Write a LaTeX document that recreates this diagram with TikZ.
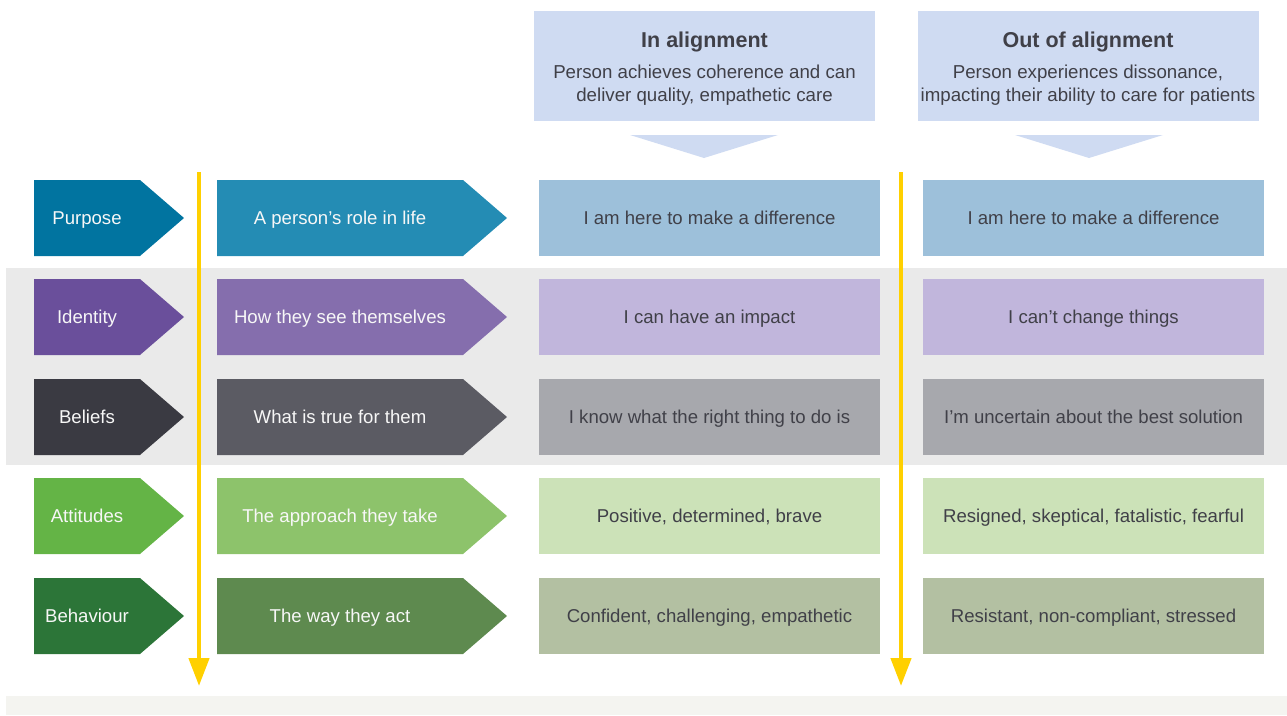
\documentclass[tikz,border=0pt]{standalone}
\usepackage{fontspec}
\setmainfont{Liberation Sans}
\usetikzlibrary{arrows.meta}

\definecolor{purA}{HTML}{0174A0}
\definecolor{purB}{HTML}{248CB4}
\definecolor{purC}{HTML}{9DC0DA}
\definecolor{idA}{HTML}{6A4F9B}
\definecolor{idB}{HTML}{856EAD}
\definecolor{idC}{HTML}{C1B6DC}
\definecolor{belA}{HTML}{3A3A42}
\definecolor{belB}{HTML}{5B5B63}
\definecolor{belC}{HTML}{A7A8AD}
\definecolor{attA}{HTML}{64B446}
\definecolor{attB}{HTML}{8DC36B}
\definecolor{attC}{HTML}{CCE2B8}
\definecolor{behA}{HTML}{2C7538}
\definecolor{behB}{HTML}{5E8A4F}
\definecolor{behC}{HTML}{B3C0A2}
\definecolor{headblue}{HTML}{CFDBF2}
\definecolor{bandgray}{HTML}{EAEAEA}
\definecolor{footgray}{HTML}{F4F4F0}
\definecolor{flowyellow}{HTML}{FFD000}
\definecolor{darktext}{HTML}{404048}

\begin{document}
\begin{tikzpicture}[x=1pt, y=-1pt,
  headbox/.style={rectangle, fill=headblue, minimum width=341pt, minimum height=110pt, inner sep=0pt},
  headtitle/.style={font=\fontsize{21.5}{24}\selectfont\bfseries, text=darktext, text height=16pt, text depth=4pt},
  headtext/.style={font=\fontsize{18.7}{23}\selectfont, text=darktext, align=center},
  lbl/.style={font=\fontsize{18.6}{22}\selectfont, text=white!94!gray, text height=16pt, text depth=4pt},
  cell/.style={rectangle, minimum width=341pt, minimum height=76pt, inner sep=0pt, font=\fontsize{18.6}{22}\selectfont, text=darktext, text height=16pt, text depth=4pt},
  flow/.style={-{Triangle[width=20pt,length=28pt]}, line width=4.5pt, flowyellow}
]
\useasboundingbox (0,0) rectangle (1287,715);

% bands
\fill[bandgray] (6,268) rectangle (1287,465);
\fill[footgray] (6,696) rectangle (1287,715);

% headers
\node[headbox] (hin) at (704.5,66) {};
\node[headbox] (hout) at (1088,66) {};
\node[headtitle] (tin) at (704.5,41) {In alignment};
\node[headtext] (sin) at (704.5,85.5) {Person achieves coherence and can\\deliver quality, empathetic care};
\node[headtitle] (tout) at (1088,41) {Out of alignment};
\node[headtext] (sout) at (1088,85.5) {Person experiences dissonance,\\impacting their ability to care for patients};
\fill[headblue] (630,135) -- (778,135) -- (704,158) -- cycle;
\fill[headblue] (1015,135) -- (1163,135) -- (1089,158) -- cycle;

% rows
\foreach \y/\name/\ca/\cb/\cc/\ta/\tb/\tc/\td in {
  218/pur/purA/purB/purC/Purpose/{A person’s role in life}/{I am here to make a difference}/{I am here to make a difference},
  317/id/idA/idB/idC/Identity/{How they see themselves}/{I can have an impact}/{I can’t change things},
  417/bel/belA/belB/belC/Beliefs/{What is true for them}/{I know what the right thing to do is}/{I’m uncertain about the best solution},
  516/att/attA/attB/attC/Attitudes/{The approach they take}/{Positive, determined, brave}/{Resigned, skeptical, fatalistic, fearful},
  616/beh/behA/behB/behC/Behaviour/{The way they act}/{Confident, challenging, empathetic}/{Resistant, non-compliant, stressed}}{
  \fill[\ca] (34,\y-38) -- (140,\y-38) -- (184,\y) -- (140,\y+38) -- (34,\y+38) -- cycle;
  \fill[\cb] (217,\y-38) -- (463,\y-38) -- (507,\y) -- (463,\y+38) -- (217,\y+38) -- cycle;
  \node[lbl] (\name-a) at (87,\y) {\ta};
  \node[lbl] (\name-b) at (340,\y) {\tb};
  \node[cell, fill=\cc] (\name-c) at (709.5,\y) {\tc};
  \node[cell, fill=\cc] (\name-d) at (1093.5,\y) {\td};
}

% flow arrows
\coordinate (fa1) at (199,172);
\coordinate (fa2) at (199,686);
\coordinate (fb1) at (901,172);
\coordinate (fb2) at (901,686);
\draw[flow] (fa1) -- (fa2);
\draw[flow] (fb1) -- (fb2);
\end{tikzpicture}
\end{document}
